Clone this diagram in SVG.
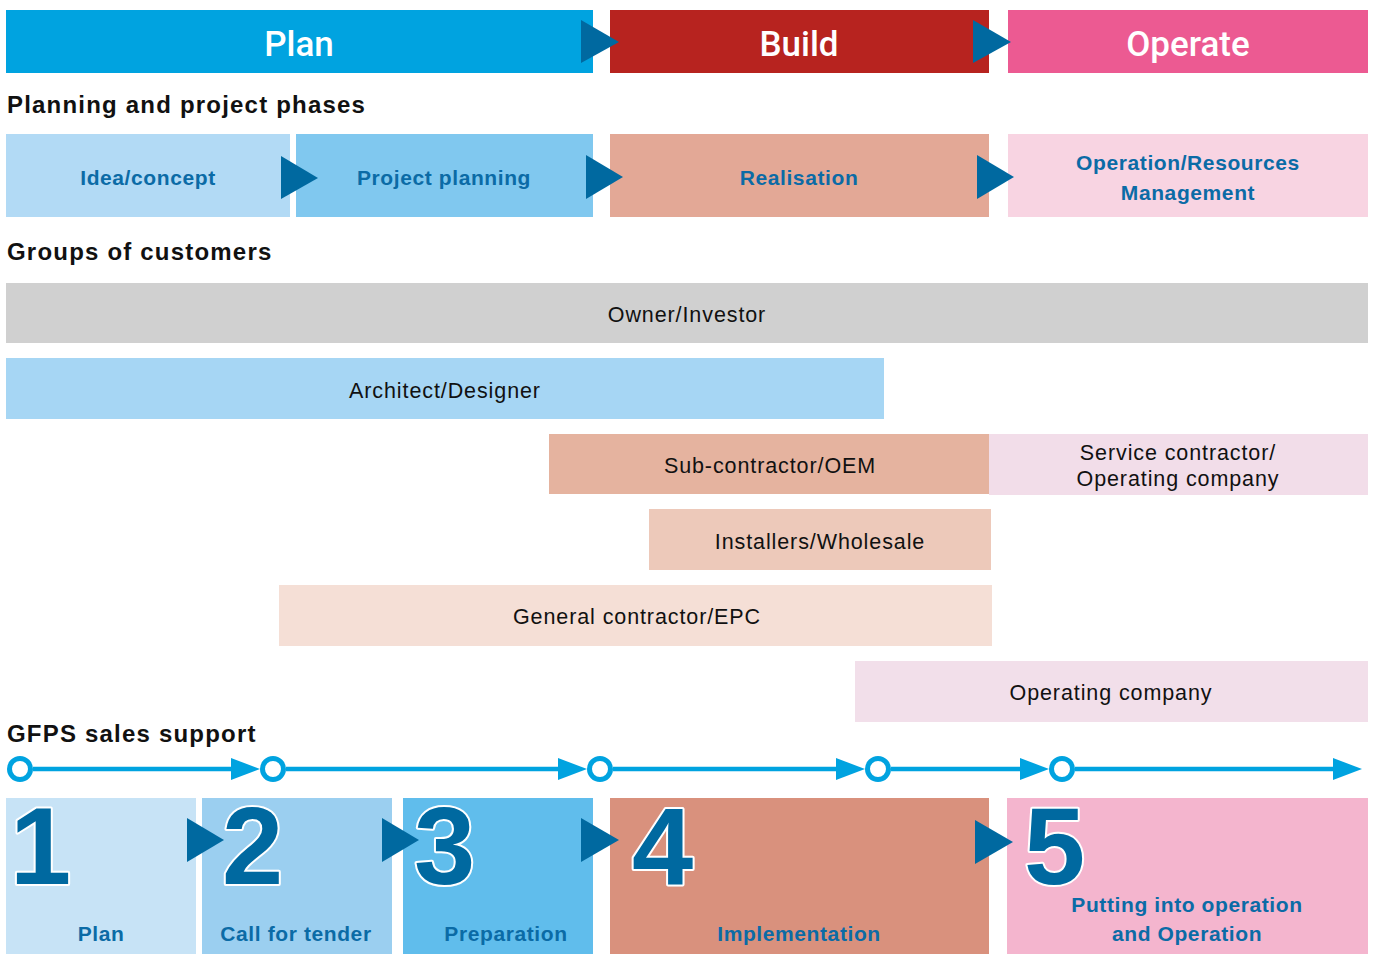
<svg xmlns="http://www.w3.org/2000/svg" width="1375" height="954" viewBox="0 0 1375 954">
<style>
.hdr{font-family:Roboto,"Liberation Sans",sans-serif;font-weight:500;font-size:35px;fill:#fff;text-anchor:middle}
.sec{font-family:"Liberation Sans",Arial,sans-serif;font-weight:bold;font-size:24px;fill:#111;letter-spacing:1.2px}
.ph{font-family:"Liberation Sans",Arial,sans-serif;font-weight:bold;font-size:21px;fill:#0B6BA6;text-anchor:middle;letter-spacing:0.6px}
.grp{font-family:"Liberation Sans",Arial,sans-serif;font-size:21.5px;fill:#111;text-anchor:middle;letter-spacing:0.9px}
.num{font-family:"Liberation Sans",Arial,sans-serif;font-weight:bold;font-size:110px;fill:#0069A0;stroke:#fff;stroke-width:4;paint-order:stroke;stroke-linejoin:round}
.tri{fill:#0069A0}
.tl{stroke:#00A3E0;stroke-width:4.5;fill:none}
.ah{fill:#00A3E0}
.circ{fill:#fff;stroke:#00A3E0;stroke-width:5}
</style>

<g id="header-plan"><rect x="6" y="10" width="587" height="63" fill="#00A3E0"/><text class="hdr" x="299" y="56">Plan</text></g>
<g id="header-build"><rect x="610" y="10" width="379" height="63" fill="#B7231F"/><text class="hdr" x="799" y="56">Build</text></g>
<g id="header-operate"><rect x="1008" y="10" width="360" height="63" fill="#EC5A92"/><text class="hdr" x="1188" y="56">Operate</text></g>

<text class="sec" x="7" y="113">Planning and project phases</text>

<g id="phase-idea"><rect x="6" y="134" width="284" height="83" fill="#B2DAF5"/><text class="ph" x="148" y="185">Idea/concept</text></g>
<g id="phase-planning"><rect x="296" y="134" width="297" height="83" fill="#80C8EF"/><text class="ph" x="444" y="185">Project planning</text></g>
<g id="phase-realisation"><rect x="610" y="134" width="379" height="83" fill="#E3A896"/><text class="ph" x="799" y="185">Realisation</text></g>
<g id="phase-operation"><rect x="1008" y="134" width="360" height="83" fill="#F8D4E2"/><text class="ph" x="1188" y="170">Operation/Resources</text><text class="ph" x="1188" y="200">Management</text></g>

<text class="sec" x="7" y="260">Groups of customers</text>

<g id="grp-owner"><rect x="6" y="283" width="1362" height="60" fill="#D0D0D0"/><text class="grp" x="687" y="322">Owner/Investor</text></g>
<g id="grp-architect"><rect x="6" y="358" width="878" height="61" fill="#A6D6F4"/><text class="grp" x="445" y="398">Architect/Designer</text></g>
<g id="grp-sub"><rect x="549" y="434" width="440" height="60" fill="#E5B39F"/><text class="grp" x="770" y="473">Sub-contractor/OEM</text></g>
<g id="grp-service"><rect x="989" y="434" width="379" height="61" fill="#F2DDE9"/><text class="grp" x="1178" y="460">Service contractor/</text><text class="grp" x="1178" y="486">Operating company</text></g>
<g id="grp-installers"><rect x="649" y="509" width="342" height="61" fill="#EDC9BA"/><text class="grp" x="820" y="549">Installers/Wholesale</text></g>
<g id="grp-general"><rect x="279" y="585" width="713" height="61" fill="#F5DFD6"/><text class="grp" x="637" y="624">General contractor/EPC</text></g>
<g id="grp-operating"><rect x="855" y="661" width="513" height="61" fill="#F2DFEA"/><text class="grp" x="1111" y="700">Operating company</text></g>

<text class="sec" x="7" y="742">GFPS sales support</text>

<g id="step-1"><rect x="6" y="798" width="190" height="156" fill="#C7E3F6"/><text class="num" x="10" y="884">1</text><text class="ph" x="101" y="941">Plan</text></g>
<g id="step-2"><rect x="202" y="798" width="190" height="156" fill="#9BCFF0"/><text class="num" x="222" y="884">2</text><text class="ph" x="296" y="941">Call for tender</text></g>
<g id="step-3"><rect x="403" y="798" width="190" height="156" fill="#60BDEC"/><text class="num" x="414" y="884">3</text><text class="ph" x="506" y="941">Preparation</text></g>
<g id="step-4"><rect x="610" y="798" width="379" height="156" fill="#D9917D"/><text class="num" x="632" y="884">4</text><text class="ph" x="799" y="941">Implementation</text></g>
<g id="step-5"><rect x="1007" y="798" width="361" height="156" fill="#F4B5CE"/><text class="num" x="1024" y="884">5</text><text class="ph" x="1187" y="912">Putting into operation</text><text class="ph" x="1187" y="941">and Operation</text></g>

<g id="connectors">
  <polygon class="tri" points="581,20 619,42 581,63"/>
  <polygon class="tri" points="973,20 1011,42 973,63"/>
  <polygon class="tri" points="281,156 318,178 281,199"/>
  <polygon class="tri" points="586,155 623,177 586,199"/>
  <polygon class="tri" points="977,155 1014,177 977,199"/>
  <polygon class="tri" points="187,818 224,840 187,862"/>
  <polygon class="tri" points="382,818 419,840 382,862"/>
  <polygon class="tri" points="581,818 619,840 581,862"/>
  <polygon class="tri" points="975,820 1013,842 975,864"/>

  <line class="tl" x1="33" y1="769" x2="234" y2="769"/>
  <polygon class="ah" points="231,758 260,769 231,780"/>
  <line class="tl" x1="286" y1="769" x2="560" y2="769"/>
  <polygon class="ah" points="558,758 587,769 558,780"/>
  <line class="tl" x1="613" y1="769" x2="838" y2="769"/>
  <polygon class="ah" points="836,758 865,769 836,780"/>
  <line class="tl" x1="891" y1="769" x2="1022" y2="769"/>
  <polygon class="ah" points="1020,758 1049,769 1020,780"/>
  <line class="tl" x1="1075" y1="769" x2="1335" y2="769"/>
  <polygon class="ah" points="1333,758 1362,769 1333,780"/>

  <circle class="circ" cx="20" cy="769" r="10.5"/>
  <circle class="circ" cx="273" cy="769" r="10.5"/>
  <circle class="circ" cx="600" cy="769" r="10.5"/>
  <circle class="circ" cx="878" cy="769" r="10.5"/>
  <circle class="circ" cx="1062" cy="769" r="10.5"/>
</g>
</svg>
